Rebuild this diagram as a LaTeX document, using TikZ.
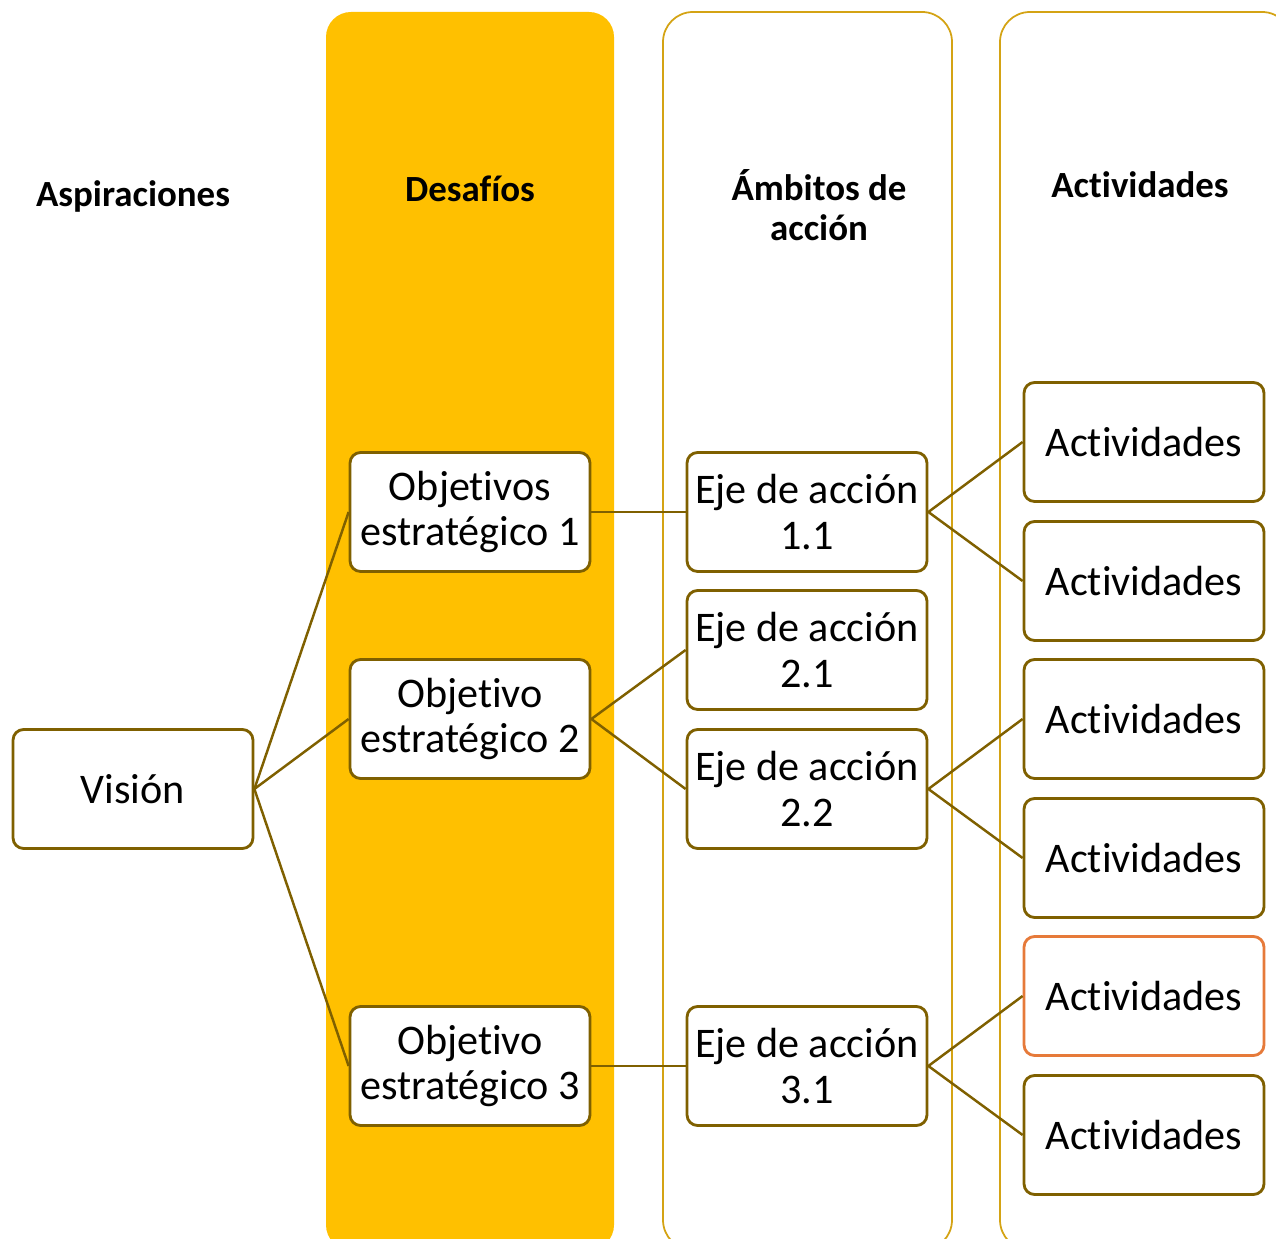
\documentclass[tikz,border=0pt]{standalone}
\usepackage{fontspec}
\setmainfont{Carlito}[Ligatures=NoCommon]
\usetikzlibrary{positioning}
\definecolor{gold}{RGB}{255,192,0}
\definecolor{goldline}{RGB}{212,163,20}
\definecolor{olive}{RGB}{127,96,0}
\definecolor{accent}{RGB}{230,122,58}
\tikzset{item/.style={draw=olive, line width=1.6pt, rounded corners=6pt, fill=white, minimum width=4.8cm, minimum height=2.38cm, align=center, font=\fontsize{24}{26}\selectfont, inner sep=2pt},
  head/.style={align=center, font=\fontsize{21}{23}\bfseries\selectfont},
  col/.style={draw=goldline, line width=1pt, rounded corners=0.6cm},
  link/.style={draw=olive, line width=1.4pt}}

\begin{document}
\begin{tikzpicture}[x=0.02cm, y=-0.02cm]
    \useasboundingbox (0,0) rectangle (1276,1239);
    \begin{scope}
    \clip (0,0) rectangle (1276,1239);
    \fill[gold, rounded corners=0.5cm] (326,1250) rectangle (614,12);
    \draw[col] (663,1250) rectangle (952,12);
    \draw[col] (1000,1250) rectangle (1292,12);
    \end{scope}
    \node[head] (H1) at (133,196) {Aspiraciones};
    \node[head] (H2) at (470,189) {Desafíos};
    \node[head] (H3) at (819,205) {Ámbitos de\\acción};
    \node[head] (H4) at (1140,185) {Actividades};
    \node[item] (V) at (133,789) {Visión};
    \node[item] (O1) at (470,512) {Objetivos\\estratégico 1};
    \node[item] (O2) at (470,719) {Objetivo\\estratégico 2};
    \node[item] (O3) at (470,1066) {Objetivo\\estratégico 3};
    \node[item] (E11) at (807,512) {Eje de acción\\1.1};
    \node[item] (E21) at (807,650) {Eje de acción\\2.1};
    \node[item] (E22) at (807,789) {Eje de acción\\2.2};
    \node[item] (E31) at (807,1066) {Eje de acción\\3.1};
    \node[item] (A1) at (1144,442) {Actividades};
    \node[item] (A2) at (1144,581) {Actividades};
    \node[item] (A3) at (1144,719) {Actividades};
    \node[item] (A4) at (1144,858) {Actividades};
    \node[item, draw=accent] (A5) at (1144,996) {Actividades};
    \node[item] (A6) at (1144,1135) {Actividades};
    \foreach \a/\b in {V/O1, V/O2, V/O3, O1/E11, O2/E21, O2/E22, O3/E31, E11/A1, E11/A2, E22/A3, E22/A4, E31/A5, E31/A6}
        \draw[link] (\a.east) -- (\b.west);
\end{tikzpicture}
\end{document}
